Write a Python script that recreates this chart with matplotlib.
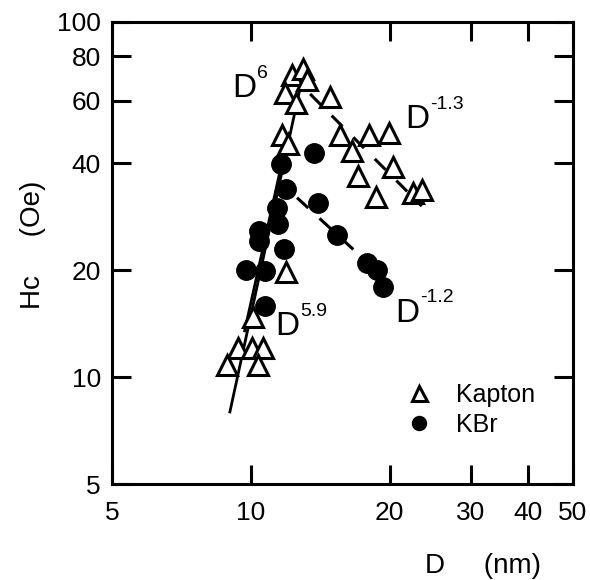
import matplotlib.pyplot as plt
from matplotlib.ticker import FixedLocator, FixedFormatter, NullLocator

plt.rcParams['font.family'] = ['Liberation Sans', 'DejaVu Sans']

# Kapton samples (open triangles)
kapton_d = [12.27, 12.98, 13.24, 11.87, 12.54, 14.86, 11.69, 12.04, 15.6, 18.05,
            19.95, 16.58, 17.09, 20.35, 18.69, 22.5, 23.5, 11.93, 10.11, 9.38,
            10.06, 10.63, 8.88, 10.37]
kapton_hc = [70.9, 73.8, 68.7, 63.2, 59.2, 61.5, 48.1, 45.4, 48.1, 48.1,
             48.7, 43.4, 36.9, 39.1, 32.2, 33.0, 33.7, 19.8, 14.8, 12.1,
             12.1, 12.1, 10.8, 10.8]

# KBr samples (filled circles)
kbr_d = [13.7, 11.63, 11.93, 11.4, 11.46, 10.42, 10.42, 13.99, 15.38, 11.8,
         17.87, 18.78, 19.35, 9.76, 10.74, 10.74]
kbr_hc = [42.8, 39.8, 33.9, 29.9, 27.0, 25.8, 24.2, 30.9, 25.1, 23.0,
          21.0, 20.0, 17.9, 20.0, 19.9, 15.9]

# power-law fit lines (end points)
kapton_up_d, kapton_up_hc = [9.01, 13.1], [7.98, 75.0]
kbr_up_d, kbr_up_hc = [9.7, 12.0], [13.5, 47.0]
kapton_down_d, kapton_down_hc = [13.45, 23.5], [62.7, 30.3]
kbr_down_d, kbr_down_hc = [12.6, 19.5], [32.0, 19.0]

x_ticks = [5, 10, 20, 30, 40, 50]
y_ticks = [5, 10, 20, 40, 60, 80, 100]

fig = plt.figure(figsize=(5.9, 5.8), dpi=100)
ax = fig.add_axes([0.1898, 0.1655, 0.7814, 0.7966])
ax.set_xscale('log')
ax.set_yscale('log')
ax.set_xlim(5, 50)
ax.set_ylim(5, 100)

ax.plot(kapton_up_d, kapton_up_hc, color='black', lw=2)
ax.plot(kbr_up_d, kbr_up_hc, color='black', lw=2)
ax.plot(kapton_down_d, kapton_down_hc, color='black', lw=2.2, dashes=(5, 5))
ax.plot(kbr_down_d, kbr_down_hc, color='black', lw=2.2, dashes=(5, 5))

ax.plot(kbr_d, kbr_hc, 'o', color='black', ms=14, label='KBr', zorder=3)
ax.plot(kapton_d, kapton_hc, '^', mfc='white', mec='black', mew=2.2, ms=15,
        label='Kapton', zorder=4)

for side in ax.spines.values():
    side.set_linewidth(2.2)

ax.xaxis.set_major_locator(FixedLocator(x_ticks))
ax.xaxis.set_major_formatter(FixedFormatter([str(t) for t in x_ticks]))
ax.yaxis.set_major_locator(FixedLocator(y_ticks))
ax.yaxis.set_major_formatter(FixedFormatter([str(t) for t in y_ticks]))
ax.xaxis.set_minor_locator(NullLocator())
ax.yaxis.set_minor_locator(NullLocator())
ax.tick_params(direction='in', length=14, width=2.2, top=True, right=True,
               labelsize=19)
ax.tick_params(axis='x', pad=12)
ax.tick_params(axis='y', pad=8)


def power_label(x, y, exp):
    ax.text(x, y, 'D', fontsize=24, va='baseline', ha='left')
    ax.annotate(exp, xy=(x, y), xytext=(18, 14), textcoords='offset points',
                fontsize=14, va='baseline', ha='left')


power_label(9.1, 61.5, '6')
power_label(21.6, 50.3, '-1.3')
power_label(11.3, 13.1, '5.9')
power_label(20.6, 14.3, '-1.2')

h, l = ax.get_legend_handles_labels()
leg = ax.legend(h[::-1], l[::-1], loc='center left', frameon=False, fontsize=18,
                bbox_to_anchor=(0.59, 0.16), handlelength=1.0, handletextpad=1.0,
                labelspacing=0.25, markerscale=0.72)

fig.text(483 / 590, 1 - 566 / 580, 'D     (nm)', fontsize=20, ha='center', va='center')
fig.text(33 / 590, 1 - 245 / 580, 'Hc     (Oe)', fontsize=20, ha='center', va='center',
         rotation=90)

plt.savefig('out.png', dpi=100)
